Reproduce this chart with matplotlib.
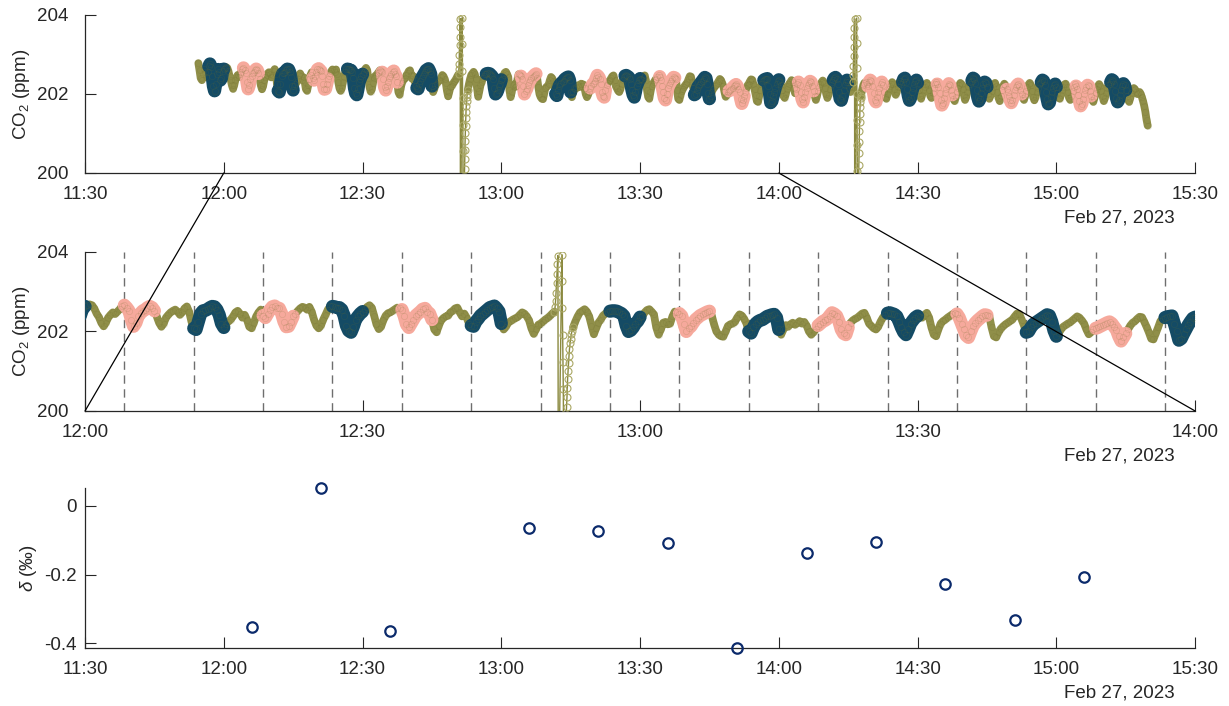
import numpy as np
import pandas as pd
import matplotlib
matplotlib.use('Agg')
import matplotlib.pyplot as plt
import matplotlib.dates as mdates
from matplotlib.patches import ConnectionPatch

plt.rcParams['font.family'] = ['Liberation Sans', 'DejaVu Sans']
plt.rcParams['mathtext.fontset'] = 'custom'
plt.rcParams['mathtext.rm'] = 'Liberation Sans'
plt.rcParams['mathtext.it'] = 'Liberation Sans:italic'
plt.rcParams['axes.unicode_minus'] = False

nan = np.nan

# time base: minutes after 12:00 on the measurement day
DAY = np.datetime64('2023-02-27T12:00')
STEP_MIN = 0.25          # 15 s between samples
LEAD_START_MIN = -5.5    # first sample 11:54:30
N_COLOURED = 14          # samples per reference / sample block

# CO2 (ppm) before the first switching window
co2_lead = [202.78, 202.60, 202.40, 202.35, 202.50, 202.62, 202.55, 202.42, 202.55]

# one row per 7.5 min switching window (30 samples, 15 s apart)
co2_windows = [
    [202.70, 202.76, 202.68, 202.45, 202.20, 202.08, 202.25, 202.50, 202.62, 202.55, 202.35, 202.40, 202.58, 202.63,
     202.67, 202.68, 202.66, 202.58, 202.45, 202.36, 202.22, 202.13, 202.22, 202.35, 202.42, 202.48, 202.44, 202.50, 202.56, 202.64],
    [202.66, 202.60, 202.52, 202.30, 202.13, 202.22, 202.39, 202.46, 202.52, 202.55, 202.60, 202.63, 202.60, 202.52,
     202.38, 202.22, 202.12, 202.20, 202.35, 202.42, 202.48, 202.52, 202.55, 202.50, 202.42, 202.48, 202.58, 202.63, 202.50, 202.25],
    [202.08, 202.05, 202.25, 202.45, 202.52, 202.53, 202.56, 202.60, 202.63, 202.62, 202.55, 202.42, 202.20, 202.10,
     202.20, 202.25, 202.30, 202.38, 202.48, 202.52, 202.45, 202.35, 202.42, 202.30, 202.12, 202.08, 202.22, 202.38, 202.48, 202.55],
    [202.40, 202.35, 202.45, 202.55, 202.62, 202.64, 202.60, 202.58, 202.45, 202.25, 202.12, 202.13, 202.25, 202.38,
     202.45, 202.52, 202.58, 202.62, 202.60, 202.55, 202.62, 202.50, 202.30, 202.15, 202.08, 202.15, 202.30, 202.42, 202.55, 202.63],
    [202.63, 202.62, 202.60, 202.60, 202.55, 202.40, 202.15, 202.02, 201.98, 202.12, 202.30, 202.38, 202.45, 202.50,
     202.56, 202.62, 202.66, 202.60, 202.40, 202.18, 202.06, 202.12, 202.28, 202.40, 202.46, 202.48, 202.52, 202.56, 202.60, 202.58],
    [202.55, 202.39, 202.18, 202.10, 202.20, 202.30, 202.40, 202.45, 202.50, 202.56, 202.58, 202.50, 202.45, 202.30,
     202.05, 201.98, 202.15, 202.28, 202.34, 202.38, 202.40, 202.48, 202.52, 202.58, 202.60, 202.48, 202.38, 202.45, 202.35, 202.20],
    [202.15, 202.13, 202.25, 202.32, 202.40, 202.45, 202.50, 202.55, 202.60, 202.62, 202.64, 202.58, 202.50, 202.20,
     202.05, 202.12, 202.22, 202.26, 202.30, 202.33, 202.36, 202.42, 202.48, 202.45, 202.38, 202.28, 202.08, 201.94, 202.05, 202.17],
    [202.20, 202.25, 202.30, 202.34, 202.39, 202.45, 202.50, nan, nan, nan, nan, nan, nan, nan,
     202.10, 202.25, 202.38, 202.48, 202.52, 202.56, 202.50, 202.38, 202.15, 201.93, 202.08, 202.22, 202.30, 202.40, 202.45, 202.50],
    [202.51, 202.52, 202.52, 202.51, 202.48, 202.45, 202.39, 202.15, 202.00, 202.03, 202.10, 202.20, 202.26, 202.36,
     202.39, 202.48, 202.54, 202.56, 202.50, 202.43, 202.10, 201.92, 202.05, 202.22, 202.24, 202.18, 202.20, 202.38, 202.50, 202.48],
    [202.45, 202.39, 202.20, 202.00, 202.08, 202.13, 202.22, 202.30, 202.35, 202.40, 202.43, 202.46, 202.49, 202.51,
     202.40, 202.18, 202.00, 201.92, 201.88, 201.87, 202.00, 202.14, 202.18, 202.20, 202.24, 202.35, 202.43, 202.40, 202.32, 202.20],
    [202.00, 201.96, 202.10, 202.20, 202.25, 202.28, 202.30, 202.34, 202.38, 202.40, 202.42, 202.43, 202.35, 202.05,
     201.92, 202.05, 202.16, 202.12, 202.18, 202.22, 202.17, 202.21, 202.26, 202.20, 202.24, 202.15, 202.00, 201.92, 201.98, 202.06],
    [202.15, 202.20, 202.25, 202.28, 202.32, 202.40, 202.47, 202.44, 202.39, 202.25, 202.05, 201.95, 201.92, 202.10,
     202.22, 202.28, 202.32, 202.35, 202.40, 202.45, 202.47, 202.35, 202.20, 202.14, 202.08, 202.05, 202.12, 202.25, 202.35, 202.42],
    [202.46, 202.47, 202.45, 202.43, 202.38, 202.25, 202.10, 201.98, 201.92, 202.05, 202.20, 202.28, 202.35, 202.39,
     202.37, 202.35, 202.42, 202.47, 202.35, 202.10, 201.92, 201.88, 202.05, 202.20, 202.26, 202.30, 202.35, 202.39, 202.43, 202.47],
    [202.44, 202.35, 202.20, 202.05, 201.90, 201.85, 202.00, 202.14, 202.22, 202.28, 202.33, 202.38, 202.42, 202.41,
     202.39, 202.10, 201.88, 201.85, 201.98, 202.07, 202.13, 202.18, 202.22, 202.26, 202.30, 202.38, 202.45, 202.44, 202.30, 202.15],
    [201.98, 202.00, 202.10, 202.18, 202.22, 202.26, 202.30, 202.34, 202.38, 202.42, 202.40, 202.25, 202.02, 201.88,
     201.95, 202.05, 202.12, 202.16, 202.20, 202.23, 202.28, 202.33, 202.38, 202.35, 202.28, 202.20, 202.05, 201.93, 201.98, 202.05],
    [202.08, 202.10, 202.13, 202.16, 202.19, 202.22, 202.24, 202.20, 202.12, 202.04, 201.88, 201.76, 201.85, 201.95,
     202.05, 202.15, 202.22, 202.26, 202.32, 202.37, 202.36, 202.25, 202.12, 201.98, 201.82, 201.80, 201.95, 202.10, 202.26, 202.32],
    [202.35, 202.37, 202.38, 202.39, 202.20, 202.00, 201.78, 201.82, 201.94, 202.05, 202.16, 202.25, 202.33, 202.36,
     202.30, 202.22, 202.10, 201.95, 201.90, 202.00, 202.12, 202.20, 202.26, 202.30, 202.35, 202.30, 202.15, 202.02, 202.12, 202.25],
    [202.30, 202.22, 202.05, 201.88, 201.80, 201.92, 202.06, 202.15, 202.22, 202.28, 202.32, 202.30, 202.20, 202.08,
     201.95, 201.85, 201.95, 202.08, 202.18, 202.25, 202.30, 202.34, 202.28, 202.15, 202.00, 201.90, 201.98, 202.12, 202.22, 202.30],
    [202.35, 202.40, 202.42, 202.38, 202.25, 202.05, 201.88, 201.84, 201.95, 202.10, 202.22, 202.30, 202.35, 202.30,
     202.15, 202.05, 202.18, 202.30, nan, nan, nan, nan, nan, nan, 201.95, 202.10, 202.22, 202.28, 202.30, 202.25],
    [202.20, 202.30, 202.35, 202.32, 202.20, 202.02, 201.85, 201.80, 201.92, 202.05, 202.15, 202.25, 202.30, 202.22,
     202.05, 201.92, 201.88, 202.00, 202.12, 202.20, 202.26, 202.30, 202.25, 202.12, 201.98, 202.05, 202.18, 202.28, 202.32, 202.25],
    [202.30, 202.38, 202.40, 202.30, 202.12, 201.95, 201.84, 201.90, 202.05, 202.15, 202.25, 202.32, 202.35, 202.28,
     202.10, 201.95, 201.88, 201.98, 202.10, 202.18, 202.24, 202.28, 202.22, 202.10, 201.95, 201.90, 202.02, 202.15, 202.25, 202.30],
    [202.25, 202.18, 202.02, 201.85, 201.72, 201.78, 201.90, 202.02, 202.12, 202.20, 202.26, 202.22, 202.10, 201.98,
     201.88, 201.82, 201.92, 202.05, 202.15, 202.22, 202.28, 202.25, 202.12, 201.98, 201.85, 201.92, 202.05, 202.18, 202.26, 202.30],
    [202.34, 202.40, 202.38, 202.28, 202.10, 201.92, 201.82, 201.88, 202.02, 202.15, 202.25, 202.30, 202.28, 202.18,
     202.00, 201.88, 201.95, 202.08, 202.18, 202.25, 202.28, 202.20, 202.05, 201.90, 201.82, 201.95, 202.10, 202.20, 202.26, 202.22],
    [202.12, 202.05, 201.95, 201.85, 201.78, 201.85, 201.98, 202.10, 202.18, 202.22, 202.25, 202.20, 202.10, 202.00,
     201.90, 201.85, 201.95, 202.08, 202.18, 202.24, 202.28, 202.22, 202.08, 201.92, 201.84, 201.92, 202.05, 202.16, 202.24, 202.28],
    [202.30, 202.35, 202.33, 202.22, 202.05, 201.88, 201.75, 201.78, 201.92, 202.05, 202.15, 202.22, 202.25, 202.18,
     202.02, 201.90, 201.88, 201.98, 202.10, 202.18, 202.24, 202.26, 202.18, 202.04, 201.90, 201.85, 201.96, 202.08, 202.18, 202.24],
    [202.20, 202.12, 201.98, 201.82, 201.70, 201.75, 201.88, 202.00, 202.10, 202.18, 202.22, 202.20, 202.08, 201.95,
     201.85, 201.80, 201.90, 202.02, 202.12, 202.20, 202.25, 202.20, 202.08, 201.94, 201.82, 201.90, 202.02, 202.14, 202.22, 202.26],
    [202.30, 202.36, 202.34, 202.25, 202.08, 201.90, 201.80, 201.85, 201.98, 202.10, 202.20, 202.26, 202.22, 202.10,
     201.95, 201.85, 201.80, 201.90, 202.02, 202.10, 202.15, 202.12, 202.05, 202.00, 202.02, 202.05, 202.00, 201.92, 201.82, 201.70],
]
co2_tail = [201.55, 201.35, 201.20]

# what is measured at the start of each window
window_kind = ['ref', 'smp', 'ref', 'smp', 'ref', 'smp', 'ref', 'none', 'ref', 'smp',
               'ref', 'smp', 'ref', 'smp', 'ref', 'smp', 'ref', 'smp', 'ref', 'smp',
               'ref', 'smp', 'ref', 'smp', 'ref', 'smp', 'ref']

# fast-sampled pressure spikes (minutes after 12:00, ppm)
spike1_min = [50.75, 50.82, 50.88, 50.93, 50.98, 51.03, 51.08, 51.13, 51.18,
              51.55, 51.58, 51.61, 51.64, 51.67, 51.70, 51.73, 51.80,
              52.02, 52.06, 52.10, 52.14, 52.18, 52.22, 52.27, 52.32, 52.38, 52.44, 52.50, 52.57, 52.64, 52.75]
spike1_ppm = [202.50, 202.62, 202.77, 202.98, 203.23, 203.44, 203.70, 203.91, 197.50,
              203.93, 203.26, 202.58, 201.90, 201.22, 200.55, 199.90, 198.60,
              199.85, 200.10, 200.35, 200.58, 200.80, 201.00, 201.20, 201.38, 201.55, 201.70, 201.82, 201.93, 202.00, 202.10]
spike2_min = [136.00, 136.07, 136.13, 136.18, 136.23, 136.28, 136.33, 136.38, 136.43,
              136.80, 136.83, 136.86, 136.89, 136.92, 136.95, 136.98, 137.05,
              137.27, 137.31, 137.35, 137.39, 137.43, 137.48, 137.53, 137.58, 137.63, 137.69, 137.75]
spike2_ppm = [202.30, 202.48, 202.72, 202.95, 203.20, 203.45, 203.68, 203.90, 197.80,
              203.92, 203.30, 202.65, 202.00, 201.35, 200.70, 200.05, 198.90,
              199.90, 200.20, 200.50, 200.78, 201.05, 201.30, 201.50, 201.68, 201.80, 201.90, 201.95]

# isotope result per sample block
delta_min = [6, 21, 36, 66, 81, 96, 111, 126, 141, 156, 171, 186]
delta_permil = [-0.354, 0.051, -0.364, -0.065, -0.073, -0.107, -0.413, -0.136, -0.104, -0.228, -0.331, -0.207]

OLIVE = '#8a893f'
OLIVE_EDGE = '#6f6e2c'
SPIKE_EDGE = '#aaa865'
REF_BLUE = '#144b65'
SMP_PINK = '#f6a99c'
NAVY = '#0b2a6b'
AX_GREY = '#262626'
FS = 13.5


def minutes_to_time(minutes):
    return DAY + (np.asarray(minutes, dtype=float) * 60).astype('timedelta64[s]')


co2 = np.array(co2_lead + [v for row in co2_windows for v in row] + co2_tail, dtype=float)
co2_time = minutes_to_time(LEAD_START_MIN + STEP_MIN * np.arange(len(co2)))
win_len = len(co2_windows[0])
win_start_idx = [len(co2_lead) + k * win_len for k in range(len(co2_windows))]


def style_axis(ax, t0, t1, ypad=12):
    ax.set_xlim(np.datetime64(t0), np.datetime64(t1))
    ax.xaxis.set_major_locator(mdates.MinuteLocator(byminute=[0, 30]))
    ax.xaxis.set_major_formatter(mdates.DateFormatter('%H:%M'))
    for side in ['top', 'right']:
        ax.spines[side].set_visible(False)
    for side in ['left', 'bottom']:
        ax.spines[side].set_color(AX_GREY)
        ax.spines[side].set_linewidth(0.9)
    ax.tick_params(axis='both', direction='in', length=8, width=0.8, colors=AX_GREY,
                   labelsize=FS, labelcolor=AX_GREY)
    ax.tick_params(axis='x', pad=9.5)
    ax.tick_params(axis='y', pad=ypad)
    ax.patch.set_alpha(0)
    ax.annotate('Feb 27, 2023', xy=(0.982, 0), xycoords='axes fraction',
                xytext=(0, -32.5), textcoords='offset points',
                ha='right', va='center', fontsize=FS, color=AX_GREY)


def draw_co2(ax):
    ax.plot(co2_time, co2, color=OLIVE, lw=5.6, solid_capstyle='round',
            solid_joinstyle='round', alpha=0.95, zorder=2)
    for k, kind in enumerate(window_kind):
        if kind == 'none':
            continue
        col = REF_BLUE if kind == 'ref' else SMP_PINK
        seg = slice(win_start_idx[k], win_start_idx[k] + N_COLOURED)
        ax.plot(co2_time[seg], co2[seg], color=col, lw=9.5, solid_capstyle='round',
                solid_joinstyle='round', zorder=3)
    ax.plot(co2_time, co2, 'o', ms=4.5, mfc='none', mec=OLIVE_EDGE, mew=0.5,
            alpha=0.18, zorder=4)
    for s_min, s_ppm in [(spike1_min, spike1_ppm), (spike2_min, spike2_ppm)]:
        st = minutes_to_time(s_min)
        ax.plot(st, s_ppm, '-', color=OLIVE, lw=1.0, zorder=4)
        ax.plot(st, s_ppm, 'o', ms=5, mfc='none', mec=SPIKE_EDGE, mew=0.8, zorder=4)
    ax.set_ylim(200, 204)
    ax.set_yticks([200, 202, 204])
    ax.set_ylabel('CO$_2$ (ppm)', fontsize=FS, color=AX_GREY)


fig = plt.figure(figsize=(12.29, 7.06), dpi=100)
ax_top = fig.add_axes([0.0692, 0.7550, 0.9032, 0.2238])
ax_mid = fig.add_axes([0.0692, 0.4179, 0.9032, 0.2252])
ax_bot = fig.add_axes([0.0692, 0.0826, 0.9032, 0.2258])

# top: whole run
draw_co2(ax_top)
style_axis(ax_top, '2023-02-27T11:30', '2023-02-27T15:30')

# middle: zoom on 12:00-14:00 with window boundaries
draw_co2(ax_mid)
style_axis(ax_mid, '2023-02-27T12:00', '2023-02-27T14:00')
win_times = co2_time[win_start_idx]
in_zoom = (win_times > np.datetime64('2023-02-27T12:00')) & (win_times < np.datetime64('2023-02-27T14:00'))
ax_mid.vlines(win_times[in_zoom], 200, 204, colors='#6e6e6e', lw=1.0,
              linestyles=(0, (6, 4)), zorder=1)

# bottom: delta values
ax_bot.plot(minutes_to_time(delta_min), delta_permil, 'o', ms=7.5, mfc='none',
            mec=NAVY, mew=1.6, clip_on=False, zorder=3)
ax_bot.set_ylim(min(delta_permil), max(delta_permil))
ax_bot.set_yticks([-0.4, -0.2, 0])
ax_bot.set_yticklabels(['-0.4', '-0.2', '0'])
ax_bot.set_ylabel(r'$\delta$ (‰)', fontsize=FS, color=AX_GREY)
style_axis(ax_bot, '2023-02-27T11:30', '2023-02-27T15:30', ypad=6)

for ax, xpix in [(ax_top, 21), (ax_mid, 21), (ax_bot, 28)]:
    ax.yaxis.label.set_va('center')
    ax.yaxis.set_label_coords((xpix - 85) / 1110, 0.5)

# zoom connector lines from the top panel to the middle panel
for edge in ['2023-02-27T12:00', '2023-02-27T14:00']:
    xd = mdates.date2num(np.datetime64(edge))
    con = ConnectionPatch(xyA=(xd, 200), coordsA=ax_top.transData,
                          xyB=(xd, 200), coordsB=ax_mid.transData,
                          color='black', lw=0.9, zorder=10)
    fig.add_artist(con)

fig.savefig('out.png', dpi=100)
